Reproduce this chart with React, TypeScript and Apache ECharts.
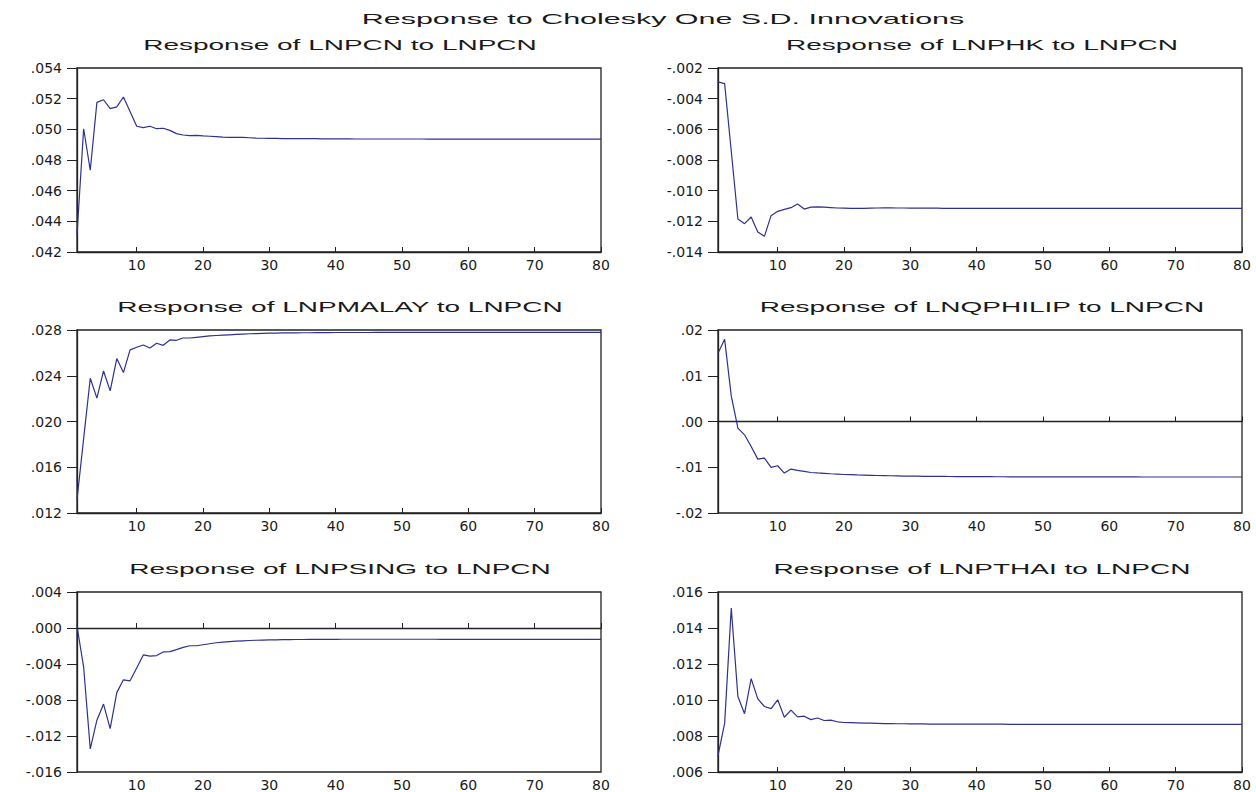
import React, { useEffect, useRef } from "react";
import * as echarts from "echarts";

const MAIN_TITLE = "Response to Cholesky One S.D. Innovations";
const PANEL_TITLES = [
  "Response of LNPCN to LNPCN",
  "Response of LNPHK to LNPCN",
  "Response of LNPMALAY to LNPCN",
  "Response of LNQPHILIP to LNPCN",
  "Response of LNPSING to LNPCN",
  "Response of LNPTHAI to LNPCN",
];

const PERIODS = Array.from({ length: 80 }, (_, i) => String(i + 1));
const X_TICK_LABELS = ["10", "20", "30", "40", "50", "60", "70", "80"];

const LNPCN = [
  0.04313, 0.05004, 0.04733, 0.05176, 0.05193, 0.05135, 0.05146, 0.05211, 0.05117, 0.0502,
  0.05011, 0.0502, 0.05004, 0.05007, 0.04993, 0.04972, 0.04963, 0.04959, 0.0496, 0.04957,
  0.04955, 0.04952, 0.04949, 0.04948, 0.04948, 0.04947, 0.04945, 0.04943, 0.04942, 0.04941,
  0.04941, 0.0494, 0.0494, 0.0494, 0.04939, 0.04939, 0.04939, 0.04938, 0.04938, 0.04938,
  0.04938, 0.04938, 0.04937, 0.04937, 0.04937, 0.04937, 0.04937, 0.04937, 0.04937, 0.04937,
  0.04937, 0.04937, 0.04937, 0.04936, 0.04936, 0.04936, 0.04936, 0.04936, 0.04936, 0.04936,
  0.04936, 0.04936, 0.04936, 0.04936, 0.04936, 0.04936, 0.04936, 0.04936, 0.04936, 0.04936,
  0.04936, 0.04936, 0.04936, 0.04936, 0.04936, 0.04936, 0.04936, 0.04936, 0.04936, 0.04936,
];

const LNPHK = [
  -0.00291, -0.00302, -0.00743, -0.01185, -0.01215, -0.01172, -0.0127, -0.01298, -0.01163, -0.01135,
  -0.01122, -0.01111, -0.01087, -0.0112, -0.01107, -0.01106, -0.01107, -0.0111, -0.01113, -0.01114,
  -0.01116, -0.01116, -0.01115, -0.01114, -0.01113, -0.01112, -0.01112, -0.01113, -0.01113, -0.01114,
  -0.01114, -0.01114, -0.01114, -0.01114, -0.01115, -0.01115, -0.01115, -0.01115, -0.01115, -0.01115,
  -0.01115, -0.01115, -0.01115, -0.01115, -0.01115, -0.01115, -0.01115, -0.01115, -0.01115, -0.01115,
  -0.01115, -0.01115, -0.01115, -0.01115, -0.01115, -0.01115, -0.01115, -0.01115, -0.01115, -0.01115,
  -0.01115, -0.01115, -0.01115, -0.01115, -0.01115, -0.01115, -0.01115, -0.01115, -0.01115, -0.01115,
  -0.01115, -0.01115, -0.01115, -0.01115, -0.01115, -0.01115, -0.01115, -0.01115, -0.01115, -0.01115,
];

const LNPMALAY = [
  0.01317, 0.0185, 0.02378, 0.02204, 0.02442, 0.02268, 0.0255, 0.02428, 0.02626, 0.02649,
  0.02669, 0.02643, 0.02684, 0.02666, 0.02713, 0.0271, 0.0273, 0.0273, 0.02736, 0.02742,
  0.02748, 0.02752, 0.02755, 0.02758, 0.02761, 0.02764, 0.02767, 0.02769, 0.02771, 0.02772,
  0.02773, 0.02774, 0.02775, 0.02775, 0.02776, 0.02776, 0.02777, 0.02777, 0.02777, 0.02778,
  0.02778, 0.02778, 0.02778, 0.02778, 0.02778, 0.02779, 0.02779, 0.02779, 0.02779, 0.02779,
  0.02779, 0.02779, 0.02779, 0.02779, 0.02779, 0.02779, 0.02779, 0.02779, 0.02779, 0.02779,
  0.02779, 0.02779, 0.02779, 0.02779, 0.02779, 0.02779, 0.02779, 0.02779, 0.02779, 0.02779,
  0.02779, 0.02779, 0.02779, 0.02779, 0.02779, 0.02779, 0.02779, 0.02779, 0.02779, 0.02779,
];

const LNQPHILIP = [
  0.01491, 0.01796, 0.0056, -0.00145, -0.00291, -0.00545, -0.00822, -0.008, -0.01004, -0.00967,
  -0.01127, -0.0104, -0.01069, -0.01091, -0.01115, -0.01125, -0.01133, -0.01142, -0.0115, -0.01158,
  -0.01163, -0.01168, -0.01172, -0.01176, -0.0118, -0.01183, -0.01186, -0.01189, -0.01192, -0.01194,
  -0.01196, -0.01198, -0.01199, -0.012, -0.01201, -0.01202, -0.01203, -0.01204, -0.01205, -0.01206,
  -0.01207, -0.01207, -0.01208, -0.01208, -0.01209, -0.01209, -0.01209, -0.0121, -0.0121, -0.0121,
  -0.0121, -0.01211, -0.01211, -0.01211, -0.01211, -0.01211, -0.01212, -0.01212, -0.01212, -0.01212,
  -0.01212, -0.01212, -0.01212, -0.01212, -0.01213, -0.01213, -0.01213, -0.01213, -0.01213, -0.01213,
  -0.01213, -0.01213, -0.01213, -0.01213, -0.01213, -0.01213, -0.01213, -0.01213, -0.01213, -0.01213,
];

const LNPSING = [
  0.00022, -0.00434, -0.01344, -0.01024, -0.00845, -0.01118, -0.00718, -0.00576, -0.00587, -0.00444,
  -0.00299, -0.00313, -0.00306, -0.00266, -0.00262, -0.0024, -0.00215, -0.00197, -0.00197, -0.00186,
  -0.00175, -0.00164, -0.00157, -0.00151, -0.00146, -0.00142, -0.00139, -0.00136, -0.00134, -0.00132,
  -0.00131, -0.0013, -0.00129, -0.00128, -0.00128, -0.00127, -0.00127, -0.00126, -0.00126, -0.00126,
  -0.00125, -0.00125, -0.00125, -0.00125, -0.00125, -0.00125, -0.00125, -0.00125, -0.00125, -0.00125,
  -0.00125, -0.00125, -0.00125, -0.00125, -0.00125, -0.00126, -0.00126, -0.00126, -0.00126, -0.00126,
  -0.00126, -0.00126, -0.00126, -0.00126, -0.00126, -0.00126, -0.00126, -0.00126, -0.00126, -0.00126,
  -0.00126, -0.00126, -0.00126, -0.00126, -0.00126, -0.00126, -0.00126, -0.00126, -0.00126, -0.00126,
];

const LNPTHAI = [
  0.00691, 0.0087, 0.01511, 0.01019, 0.00924, 0.01119, 0.01006, 0.00964, 0.00952, 0.01001,
  0.00904, 0.00944, 0.00906, 0.0091, 0.00891, 0.009, 0.00886, 0.00888, 0.00879, 0.00875,
  0.00874, 0.00873, 0.00872, 0.00871, 0.0087, 0.00869, 0.00869, 0.00868, 0.00868, 0.00867,
  0.00867, 0.00867, 0.00866, 0.00866, 0.00866, 0.00866, 0.00866, 0.00866, 0.00866, 0.00866,
  0.00866, 0.00866, 0.00866, 0.00866, 0.00865, 0.00865, 0.00865, 0.00865, 0.00865, 0.00865,
  0.00865, 0.00865, 0.00865, 0.00865, 0.00865, 0.00865, 0.00865, 0.00865, 0.00865, 0.00865,
  0.00865, 0.00865, 0.00865, 0.00865, 0.00865, 0.00865, 0.00865, 0.00865, 0.00865, 0.00865,
  0.00865, 0.00865, 0.00865, 0.00865, 0.00865, 0.00865, 0.00865, 0.00865, 0.00865, 0.00865,
];

const SERIES_DATA = [LNPCN, LNPHK, LNPMALAY, LNQPHILIP, LNPSING, LNPTHAI];
const Y_MIN = [0.042, -0.014, 0.012, -0.02, -0.016, 0.006];
const Y_MAX = [0.054, -0.002, 0.028, 0.02, 0.004, 0.016];
const Y_STEP = [0.002, 0.002, 0.004, 0.01, 0.004, 0.002];
const Y_DECIMALS = [3, 3, 3, 2, 3, 3];
const ZERO_LINE = [false, false, false, true, true, false];

const LINE_COLOR = "#2e3192";
const FRAME = "#222222";

const COL_LEFT = [77, 718];
const COL_WIDTH = [524, 524];
const ROW_TOP = [68, 330, 592];
const ROW_HEIGHT = [184, 183, 183];
const TITLE_Y = [45, 307, 569];
const TITLE_X = [340, 982];

function fmt(v: number, d: number) {
  const s = Math.abs(v).toFixed(d).replace(/^0/, "");
  return (v < -1e-9 ? "-" : "") + s;
}

export default function App() {
  const ref = useRef<HTMLDivElement>(null);
  useEffect(() => {
    if (!ref.current) return;
    const chart = echarts.init(ref.current, undefined, { renderer: "svg" });
    const grids: any[] = [];
    const xAxes: any[] = [];
    const yAxes: any[] = [];
    const series: any[] = [];
    const graphics: any[] = [
      {
        type: "text",
        x: 663,
        y: 19,
        scaleX: 2.03,
        style: {
          text: MAIN_TITLE,
          fontSize: 15,
          fontFamily: "Liberation Sans",
          fill: "#1a1a1a",
          textAlign: "center",
          textVerticalAlign: "middle",
          align: "center",
          verticalAlign: "middle",
        },
      },
    ];
    SERIES_DATA.forEach((data, i) => {
      const col = i % 2;
      const row = Math.floor(i / 2);
      grids.push({
        left: COL_LEFT[col],
        top: ROW_TOP[row],
        width: COL_WIDTH[col],
        height: ROW_HEIGHT[row],
        show: true,
        borderColor: FRAME,
        borderWidth: 1.3,
        backgroundColor: "transparent",
      });
      xAxes.push({
        type: "category",
        gridIndex: i,
        data: PERIODS,
        boundaryGap: false,
        axisLine: { show: true, lineStyle: { color: FRAME, width: 1.3 } },
        axisTick: {
          show: true,
          inside: true,
          length: 5,
          lineStyle: { color: FRAME },
          interval: (idx: number, val: string) => X_TICK_LABELS.includes(val),
        },
        axisLabel: {
          show: true,
          interval: (idx: number, val: string) => X_TICK_LABELS.includes(val),
          fontFamily: "DejaVu Sans",
          fontSize: 14,
          color: "#1a1a1a",
          margin: 6,
        },
        splitLine: { show: false },
      });
      const d = Y_DECIMALS[i];
      yAxes.push({
        type: "value",
        gridIndex: i,
        min: Y_MIN[i],
        max: Y_MAX[i],
        interval: Y_STEP[i],
        axisLine: { show: true, lineStyle: { color: FRAME, width: 1.3 } },
        axisTick: { show: true, inside: false, length: 10, lineStyle: { color: FRAME } },
        axisLabel: {
          show: true,
          fontFamily: "DejaVu Sans",
          fontSize: 14,
          color: "#1a1a1a",
          margin: 15,
          formatter: (v: number) => fmt(v, d),
        },
        splitLine: { show: false },
      });
      const s: any = {
        type: "line",
        xAxisIndex: i,
        yAxisIndex: i,
        data,
        symbol: "none",
        smooth: false,
        lineStyle: { color: LINE_COLOR, width: 1.2 },
        itemStyle: { color: LINE_COLOR },
      };
      if (ZERO_LINE[i]) {
        s.markLine = {
          silent: true,
          symbol: "none",
          label: { show: false },
          lineStyle: { color: FRAME, width: 1, type: "solid" },
          data: [{ yAxis: 0 }],
        };
      }
      series.push(s);
      graphics.push({
        type: "text",
        x: TITLE_X[col],
        y: TITLE_Y[row],
        scaleX: 2,
        style: {
          text: PANEL_TITLES[i],
          fontSize: 14,
          fontFamily: "Liberation Sans",
          fill: "#1a1a1a",
          textAlign: "center",
          textVerticalAlign: "middle",
          align: "center",
          verticalAlign: "middle",
        },
      });
    });
    chart.setOption({
      animation: false,
      backgroundColor: "#ffffff",
      grid: grids,
      xAxis: xAxes,
      yAxis: yAxes,
      series,
      graphic: graphics,
    });
    return () => chart.dispose();
  }, []);
  return (
    <div
      ref={ref}
      style={{ position: "fixed", left: 0, top: 0, width: 1256, height: 792 }}
    />
  );
}
